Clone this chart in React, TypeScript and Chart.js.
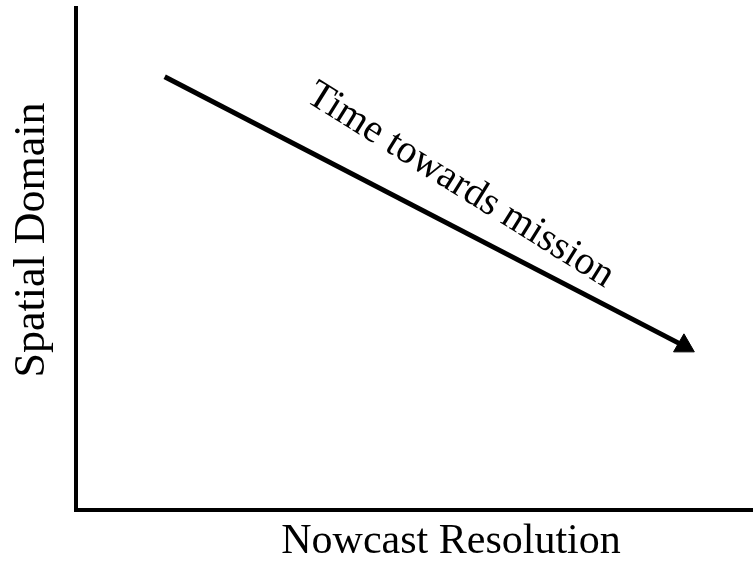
import React, { useEffect, useRef } from "react";
import { Chart, registerables } from "chart.js";

Chart.register(...registerables);

// Conceptual arrow: from large spatial domain / coarse resolution to small domain / fine resolution
const arrowX: number[] = [13.1, 89.8];
const arrowY: number[] = [86.3, 32.7];
const arrowLabel = "Time towards mission";
const xTitle = "Nowcast Resolution";
const yTitle = "Spatial Domain";

const FONT = '"Liberation Serif", "Times New Roman", serif';

const textPlugin = {
  id: "diagramText",
  afterDraw(chart: any) {
    const { ctx, chartArea, scales } = chart;
    ctx.save();
    ctx.fillStyle = "#000";
    ctx.textAlign = "center";
    ctx.textBaseline = "middle";

    // x-axis title
    ctx.font = `42px ${FONT}`;
    ctx.fillText(xTitle, chartArea.left + 375, chartArea.bottom + 32);

    // y-axis title
    ctx.save();
    ctx.translate(32, chartArea.top + 232);
    ctx.rotate(-Math.PI / 2);
    ctx.font = `44px ${FONT}`;
    ctx.fillText(yTitle, 0, 0);
    ctx.restore();

    // label along the arrow
    const x0 = scales.x.getPixelForValue(arrowX[0]);
    const y0 = scales.y.getPixelForValue(arrowY[0]);
    const x1 = scales.x.getPixelForValue(arrowX[1]);
    const y1 = scales.y.getPixelForValue(arrowY[1]);
    const mx = (x0 + x1) / 2;
    const my = (y0 + y1) / 2;
    ctx.save();
    ctx.translate(mx + 36, my - 26);
    ctx.rotate((32 * Math.PI) / 180);
    ctx.font = `40px ${FONT}`;
    ctx.fillText(arrowLabel, 0, 0);
    ctx.restore();

    ctx.restore();
  },
};

export default function App() {
  const ref = useRef<HTMLCanvasElement | null>(null);

  useEffect(() => {
    if (!ref.current) return;
    const data = arrowX.map((x, i) => ({ x, y: arrowY[i] }));
    const chart = new Chart(ref.current, {
      type: "line",
      data: {
        datasets: [
          {
            data,
            borderColor: "#000",
            backgroundColor: "#000",
            borderWidth: 5,
            pointStyle: "triangle",
            pointRotation: 0,
            pointRadius: [0, 12],
            pointBorderWidth: 1,
            pointBorderColor: "#000",
            pointBackgroundColor: "#000",
            tension: 0,
          },
        ],
      },
      options: {
        responsive: false,
        animation: false,
        events: [],
        layout: { autoPadding: false, padding: { top: 8, right: 0, left: 0, bottom: 0 } },
        plugins: {
          legend: { display: false },
          tooltip: { enabled: false },
          title: { display: false },
        },
        scales: {
          x: {
            type: "linear",
            min: 0,
            max: 100,
            ticks: { display: false },
            grid: { display: false },
            border: { display: true, color: "#000", width: 4 },
            afterFit: (s: any) => {
              s.height = 52;
            },
          },
          y: {
            type: "linear",
            min: 0,
            max: 100,
            ticks: { display: false },
            grid: { display: false },
            border: { display: true, color: "#000", width: 4 },
            afterFit: (s: any) => {
              s.width = 76;
            },
          },
        },
      },
      plugins: [textPlugin],
    });
    return () => chart.destroy();
  }, []);

  return (
    <div style={{ position: "fixed", left: 0, top: 0, width: 753, height: 562, background: "#fff" }}>
      <canvas ref={ref} width={753} height={562} />
    </div>
  );
}
